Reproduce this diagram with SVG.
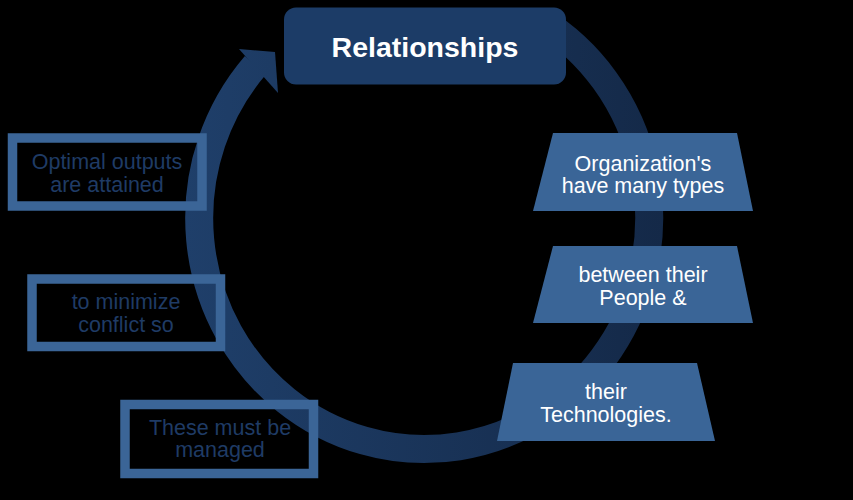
<svg xmlns="http://www.w3.org/2000/svg" width="853" height="500" viewBox="0 0 853 500">
  <defs>
    <linearGradient id="ringGrad" gradientUnits="userSpaceOnUse" x1="185" y1="0" x2="663" y2="0">
      <stop offset="0" stop-color="#1f3f6a"/>
      <stop offset="1" stop-color="#142948"/>
    </linearGradient>
    <style>
      .trap { fill: #3a6597; }
      .trapText { font-family: "Liberation Sans", Arial, sans-serif; font-size: 21.5px; fill: #ffffff; text-anchor: middle; }
      .leftBox { fill: none; stroke: #3b6597; stroke-width: 9.5; }
      .leftText { font-family: "Liberation Sans", Arial, sans-serif; font-size: 21.5px; fill: #1f3b65; text-anchor: middle; }
      .title { font-family: "Liberation Sans", Arial, sans-serif; font-size: 28.5px; font-weight: bold; fill: #ffffff; text-anchor: middle; }
    </style>
  </defs>
  <rect x="0" y="0" width="853" height="500" fill="#000000"/>

  <g id="connectors">
    <path d="M 540 20 A 225 231 0 1 1 255.5 65.2" fill="none" stroke="url(#ringGrad)" stroke-width="28"/>
    <polygon points="239,49 275,52 278,93" fill="url(#ringGrad)"/>
  </g>

  <g id="node-relationships">
    <rect x="284" y="7.5" width="282" height="77" rx="12" ry="12" fill="#1c3c67"/>
    <text class="title" x="425" y="57">Relationships</text>
  </g>

  <g id="node-organizations">
    <polygon class="trap" points="553,133 737,133 753,211 533,211"/>
    <text class="trapText" x="643" y="171">Organization's</text>
    <text class="trapText" x="643" y="193">have many types</text>
  </g>

  <g id="node-between">
    <polygon class="trap" points="553,246 737,246 753,323 533,323"/>
    <text class="trapText" x="643" y="282">between their</text>
    <text class="trapText" x="643" y="305">People &amp;</text>
  </g>

  <g id="node-technologies">
    <polygon class="trap" points="513,363 697,363 715,441 497,441"/>
    <text class="trapText" x="606" y="399">their</text>
    <text class="trapText" x="606" y="422">Technologies.</text>
  </g>

  <g id="node-optimal">
    <rect class="leftBox" x="12.5" y="138" width="189.5" height="68"/>
    <text class="leftText" x="107" y="169">Optimal outputs</text>
    <text class="leftText" x="107" y="192">are attained</text>
  </g>

  <g id="node-minimize">
    <rect class="leftBox" x="32" y="279" width="188.5" height="67.5"/>
    <text class="leftText" x="126" y="309">to minimize</text>
    <text class="leftText" x="126" y="332">conflict so</text>
  </g>

  <g id="node-managed">
    <rect class="leftBox" x="125" y="404.5" width="188.5" height="69"/>
    <text class="leftText" x="220" y="435">These must be</text>
    <text class="leftText" x="220" y="457">managed</text>
  </g>
</svg>
